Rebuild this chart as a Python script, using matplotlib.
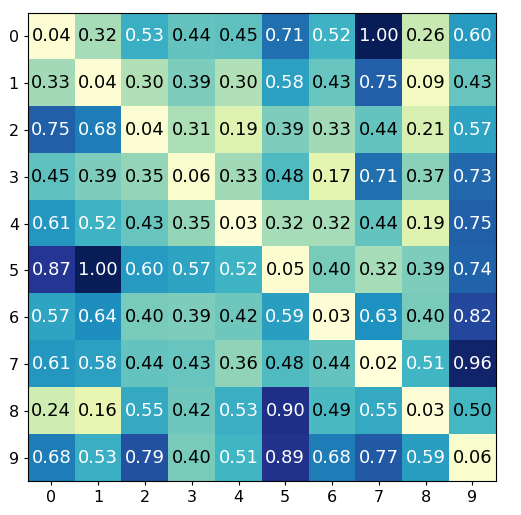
import numpy as np
import matplotlib
matplotlib.use("Agg")
import matplotlib.pyplot as plt

row_labels = ["0", "1", "2", "3", "4", "5", "6", "7", "8", "9"]
col_labels = ["0", "1", "2", "3", "4", "5", "6", "7", "8", "9"]

row0 = [0.04, 0.32, 0.53, 0.44, 0.45, 0.71, 0.52, 1.00, 0.26, 0.60]
row1 = [0.33, 0.04, 0.30, 0.39, 0.30, 0.58, 0.43, 0.75, 0.09, 0.43]
row2 = [0.75, 0.68, 0.04, 0.31, 0.19, 0.39, 0.33, 0.44, 0.21, 0.57]
row3 = [0.45, 0.39, 0.35, 0.06, 0.33, 0.48, 0.17, 0.71, 0.37, 0.73]
row4 = [0.61, 0.52, 0.43, 0.35, 0.03, 0.32, 0.32, 0.44, 0.19, 0.75]
row5 = [0.87, 1.00, 0.60, 0.57, 0.52, 0.05, 0.40, 0.32, 0.39, 0.74]
row6 = [0.57, 0.64, 0.40, 0.39, 0.42, 0.59, 0.03, 0.63, 0.40, 0.82]
row7 = [0.61, 0.58, 0.44, 0.43, 0.36, 0.48, 0.44, 0.02, 0.51, 0.96]
row8 = [0.24, 0.16, 0.55, 0.42, 0.53, 0.90, 0.49, 0.55, 0.03, 0.50]
row9 = [0.68, 0.53, 0.79, 0.40, 0.51, 0.89, 0.68, 0.77, 0.59, 0.06]

data = np.array([row0, row1, row2, row3, row4, row5, row6, row7, row8, row9])

fig = plt.figure(figsize=(5.21, 5.15), dpi=100)
ax = fig.add_axes([0.0537, 0.066, 0.898, 0.909])
ax.imshow(data, cmap="YlGnBu", aspect="auto")

# anotar cada celda
for i in range(data.shape[0]):
    for j in range(data.shape[1]):
        v = data[i, j]
        ax.text(j, i, f"{v:.2f}", ha="center", va="center",
                color="white" if v > 0.5 else "black", fontsize=13)

ax.set_xticks(range(len(col_labels)))
ax.set_xticklabels(col_labels, fontsize=11.5)
ax.set_yticks(range(len(row_labels)))
ax.set_yticklabels(row_labels, fontsize=11.5)
ax.tick_params(length=3)

fig.savefig("out.png", dpi=100)
